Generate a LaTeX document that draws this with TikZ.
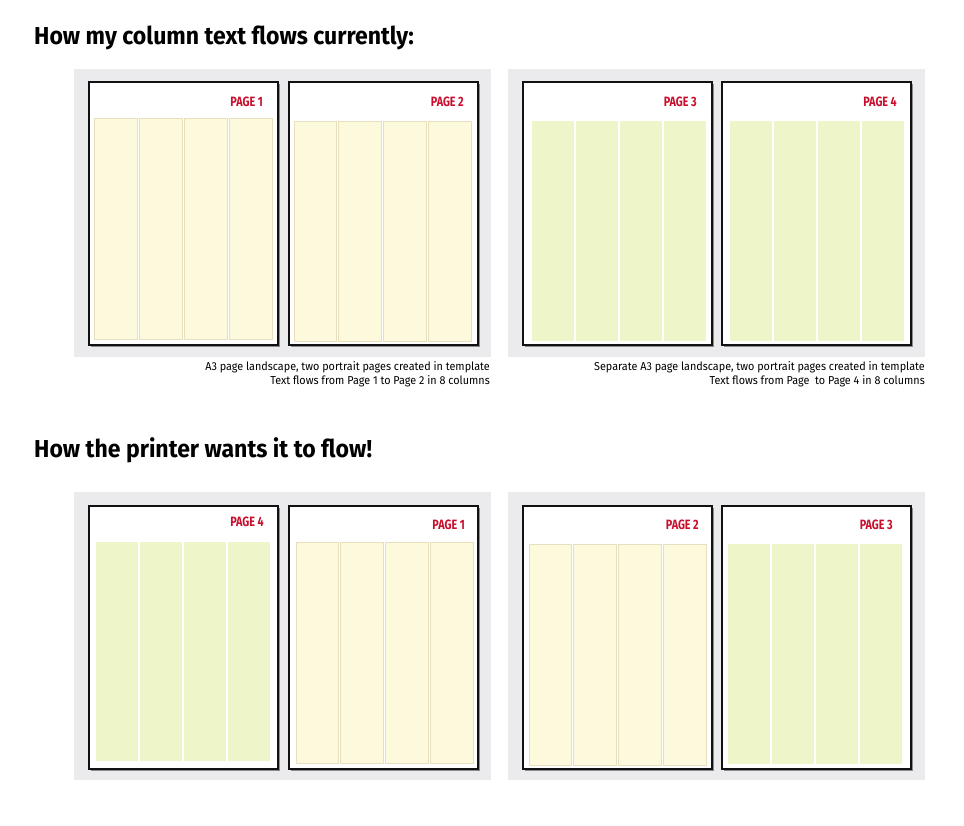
\documentclass[tikz,border=0pt]{standalone}
\usepackage{fontspec}
\setmainfont{Fira Sans}[FakeStretch=0.94]
\newfontfamily\pgfont{Fira Sans}[FakeStretch=0.8]
\usetikzlibrary{positioning}
\definecolor{ink}      {HTML}{111111}
\definecolor{panelgrey}{HTML}{EBEBED}
\definecolor{pagered}  {HTML}{C8102E}
\definecolor{cream}    {HTML}{FDF9DC}
\definecolor{creamline}{HTML}{E8DFBE}
\definecolor{lime}     {HTML}{EEF5C8}
\definecolor{shade}    {HTML}{8C8C8C}
\tikzset{
  % --- shapes
  panel/.style    = {fill=panelgrey},
  sheet/.style    = {fill=white, draw=ink, line width=2pt},
  sheetshade/.style = {fill=shade},
  colcream/.style = {fill=cream, draw=creamline, line width=0.8pt},
  collime/.style  = {fill=lime},
  % --- texts
  headline/.style = {font=\fontsize{24.5}{28}\selectfont\bfseries, anchor=base west, inner sep=0pt},
  pglabel/.style  = {font=\pgfont\fontsize{13.5}{15}\selectfont\bfseries, text=pagered, anchor=base east, inner sep=0pt},
  capline/.style  = {font=\fontsize{11.5}{14}\selectfont, anchor=base east, inner sep=0pt},
}
\begin{document}
\begin{tikzpicture}[x=1pt,y=-1pt]
  \useasboundingbox (0,0) rectangle (964,825);
  % headlines
  \node[headline] (now)  at (34,44)  {How my column text flows currently:};
  \node[headline] (want) at (34,457) {How the printer wants it to flow!};

  % grey spreads
  \foreach \px/\py in {74/69, 508/69, 74/492, 508/492}
    \fill[panel] (\px,\py) rectangle ({\px+417},{\py+288});

  % pages: left/top, label, column style, column span x, column span y, label base
  \foreach \sx/\sy/\slab/\ckind/\ca/\cb/\cc/\cd/\lx/\ly [count=\n] in {
      89/82/{PAGE 1}/colcream/94/272/118/339/263/106,
      289/82/{PAGE 2}/colcream/294/471/121/341/464/106,
      523/82/{PAGE 3}/collime/532/706/121/341/697/106,
      722/82/{PAGE 4}/collime/730/904/121/341/897/106,
      89/506/{PAGE 4}/collime/96/270/542/761/264/526,
      289/506/{PAGE 1}/colcream/296/473/542/763/465/529,
      523/506/{PAGE 2}/colcream/529/706/544/765/699/529,
      722/506/{PAGE 3}/collime/728/902/544/764/893/529}
  {
    \fill[sheetshade] ({\sx+1.5},{\sy+1.5}) rectangle ({\sx+190.5},{\sy+264.5});
    \draw[sheet] (\sx,\sy) rectangle ({\sx+189},{\sy+263});
    \foreach \k in {0,...,3}
      \path[\ckind] ({\ca+\k*(\cb-\ca+2)/4},\cc) rectangle ({\ca+(\k+1)*(\cb-\ca+2)/4-2},\cd);
    \node[pglabel] (pg\n) at (\lx,\ly) {\slab};
  }

  % captions
  \node[capline] (capA1) at (490,370) {A3 page landscape, two portrait pages created in template};
  \node[capline] (capA2) at (490,384) {Text flows from Page 1 to Page 2 in 8 columns};
  \node[capline] (capB1) at (925,370) {Separate A3 page landscape, two portrait pages created in template};
  \node[capline] (capB2) at (925,384) {Text flows from Page \ to Page 4 in 8 columns};
\end{tikzpicture}
\end{document}
